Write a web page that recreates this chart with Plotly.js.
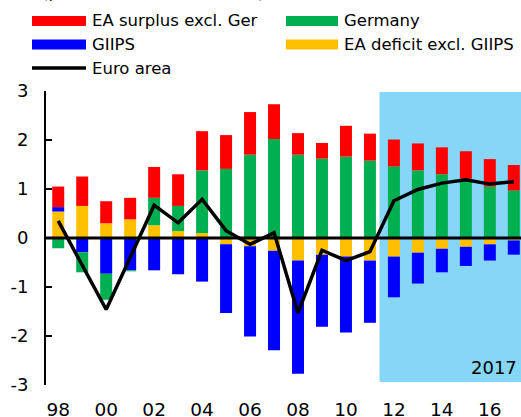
<!DOCTYPE html>
<html>
<head>
<meta charset="utf-8">
<script src="https://cdn.plot.ly/plotly-3.0.1.min.js"></script>
<style>html,body{margin:0;padding:0;background:#fff;}#chart{width:521px;height:417px;}</style>
</head>
<body>
<div id="chart"></div>
<script>
// ---- data ----
const years = [1998,1999,2000,2001,2002,2003,2004,2005,2006,2007,2008,2009,2010,2011,2012,2013,2014,2015,2016,2017];
const eaDeficitExGIIPS = [0.54,0.655,0.30,0.38,0.26,0.14,0.10,-0.13,-0.17,-0.26,-0.46,-0.34,-0.38,-0.46,-0.38,-0.30,-0.22,-0.18,-0.13,-0.05];
const giips = [0.09,-0.29,-0.73,-0.66,-0.66,-0.74,-0.89,-1.40,-1.84,-2.03,-2.31,-1.47,-1.55,-1.27,-0.83,-0.63,-0.48,-0.39,-0.33,-0.29];
const germany = [-0.21,-0.41,-0.53,-0.02,0.56,0.515,1.28,1.41,1.70,2.02,1.70,1.62,1.66,1.58,1.46,1.38,1.30,1.21,1.05,0.97];
const eaSurplusExGer = [0.42,0.60,0.45,0.44,0.63,0.645,0.80,0.69,0.87,0.71,0.44,0.32,0.63,0.55,0.55,0.55,0.55,0.56,0.56,0.52];
const euroArea = [0.35,-0.55,-1.46,-0.40,0.67,0.31,0.79,0.15,-0.13,0.11,-1.53,-0.25,-0.46,-0.28,0.76,0.99,1.12,1.19,1.10,1.15];
const tickYears = [1998,2000,2002,2004,2006,2008,2010,2012,2014,2016];
const tickLabels = ['98','00','02','04','06','08','10','12','14','16'];
const yTickVals = [-3,-2,-1,0,1,2,3];
const yTickLabels = ['-3','-2','-1','0','1','2','3'];
const forecastStart = 2011.4;
const forecastLabel = '2017';
const titleText = '(percent of euro area GDP)';

const names = ['EA surplus excl. Ger','Germany','GIIPS','EA deficit excl. GIIPS','Euro area'];
const colors = {red:'#FF0000', green:'#00B050', blue:'#0000FF', yellow:'#FFC000'};

// ---- geometry helpers (pixels -> paper) ----
const W = 521, H = 417;
const M = {l:46, r:0, t:91, b:32};
const pw = W - M.l - M.r, ph = H - M.t - M.b;
const px = x => (x - M.l) / pw;
const py = y => (H - M.b - y) / ph;

const FONT = 'DejaVu Sans, Arial, sans-serif';

const traces = [
  {type:'bar', x:years, y:eaDeficitExGIIPS, name:names[3], marker:{color:colors.yellow, line:{width:0}}},
  {type:'bar', x:years, y:giips, name:names[2], marker:{color:colors.blue, line:{width:0}}},
  {type:'bar', x:years, y:germany, name:names[1], marker:{color:colors.green, line:{width:0}}},
  {type:'bar', x:years, y:eaSurplusExGer, name:names[0], marker:{color:colors.red, line:{width:0}}},
  {type:'scatter', mode:'lines', x:years, y:euroArea, name:names[4], line:{color:'#000', width:3.5}}
];

// custom legend
const legendItems = [
  {label:names[0], color:colors.red, col:0, row:0},
  {label:names[1], color:colors.green, col:1, row:0},
  {label:names[2], color:colors.blue, col:0, row:1},
  {label:names[3], color:colors.yellow, col:1, row:1},
  {label:names[4], color:'#000', col:0, row:2, line:true}
];
const rowY = [21, 44.5, 68];
const colX = [[32,86,90],[286,338,342]];

const shapes = [
  {type:'rect', xref:'x', yref:'y', x0:forecastStart, x1:2018, y0:-2.94, y1:2.98,
   fillcolor:'#86D6F7', line:{width:0}, layer:'below'},
  {type:'line', xref:'paper', yref:'y', x0:0, x1:1, y0:0, y1:0, line:{color:'#000', width:3}, layer:'above'}
];
const annotations = [
  {xref:'x', yref:'y', x:2017.2, y:-2.64, text:forecastLabel, showarrow:false, xanchor:'right', yanchor:'middle',
   font:{family:FONT, size:18, color:'#000'}},
  {xref:'paper', yref:'paper', x:px(40), y:py(4), text:titleText, showarrow:false, xanchor:'left', yanchor:'bottom',
   font:{family:FONT, size:16.5, color:'#000'}}
];
legendItems.forEach(it => {
  const c = colX[it.col], y = rowY[it.row];
  if (it.line) {
    shapes.push({type:'line', xref:'paper', yref:'paper', x0:px(c[0]), x1:px(c[1]), y0:py(y), y1:py(y),
      line:{color:it.color, width:3.5}});
  } else {
    shapes.push({type:'rect', xref:'paper', yref:'paper', x0:px(c[0]), x1:px(c[1]), y0:py(y+5), y1:py(y-5),
      fillcolor:it.color, line:{width:0}});
  }
  annotations.push({xref:'paper', yref:'paper', x:px(c[2]), y:py(y), text:it.label, showarrow:false,
    xanchor:'left', yanchor:'middle', font:{family:FONT, size:16.5, color:'#000'}});
});

const layout = {
  width:W, height:H, margin:M,
  paper_bgcolor:'#fff', plot_bgcolor:'rgba(0,0,0,0)',
  barmode:'relative', bargap:0.5,
  showlegend:false,
  font:{family:FONT, size:18, color:'#000'},
  xaxis:{range:[1997.49, 2017.3], tickvals:tickYears, ticktext:tickLabels, showgrid:false, zeroline:false,
    showline:false, ticks:'', ticklabelstandoff:11, tickfont:{family:FONT, size:18.5, color:'#000'}},
  yaxis:{range:[-3,3], tickvals:yTickVals, ticktext:yTickLabels, showgrid:false, zeroline:false, showline:true,
    linecolor:'#000', linewidth:2, ticks:'inside', ticklen:6, tickwidth:2, tickcolor:'#000', ticklabelstandoff:12,
    tickfont:{family:FONT, size:18, color:'#000'}},
  shapes:shapes, annotations:annotations
};

Plotly.newPlot('chart', traces, layout, {staticPlot:true, displayModeBar:false});
</script>
</body>
</html>
